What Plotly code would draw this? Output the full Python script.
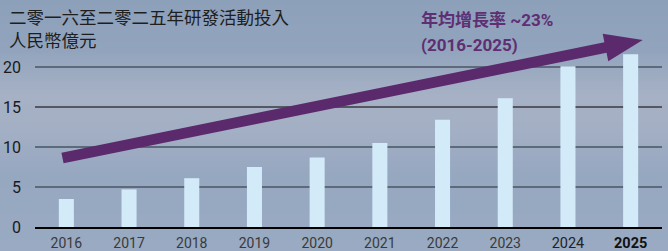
import base64, struct, zlib
import plotly.graph_objects as go

# ---- data ----
years = ["2016", "2017", "2018", "2019", "2020", "2021", "2022", "2023", "2024", "2025"]
year_labels = ["2016", "2017", "2018", "2019", "2020", "2021", "2022", "2023",
               "<span style='font-size:14.5px;color:#222'>2024</span>",
               "<span style='font-size:14.5px;color:#111'><b>2025</b></span>"]
rd_input = [3.5, 4.7, 6.1, 7.5, 8.7, 10.5, 13.4, 16.1, 20.1, 21.6]
y_ticks = [0, 5, 10, 15, 20]
title_lines = ["二零一六至二零二五年研發活動投入", "人民幣億元"]
growth_lines = ["年均增長率 ~23%", "(2016-2025)"]

# ---- geometry ----
W, H = 668, 251
ML, MR, MT, MB = 35, 6, 35, 24
PW, PH = W - ML - MR, H - MT - MB


def px2paper(px, py):
    return (px - ML) / PW, (H - MB - py) / PH


# ---- background gradient as PNG ----
def gradient_png(stops, h):
    def col(y):
        for (y0, c0), (y1, c1) in zip(stops, stops[1:]):
            if y0 <= y <= y1:
                t = (y - y0) / (y1 - y0) if y1 > y0 else 0
                return bytes(int(round(a + (b - a) * t)) for a, b in zip(c0, c1))
        return bytes(stops[-1][1])
    raw = b"".join(b"\x00" + col(y) for y in range(h))

    def chunk(tag, data):
        c = struct.pack(">I", len(data)) + tag + data
        return c + struct.pack(">I", zlib.crc32(tag + data) & 0xffffffff)
    png = b"\x89PNG\r\n\x1a\n" + chunk(b"IHDR", struct.pack(">IIBBBBB", 1, h, 8, 2, 0, 0, 0))
    png += chunk(b"IDAT", zlib.compress(raw)) + chunk(b"IEND", b"")
    return "data:image/png;base64," + base64.b64encode(png).decode()


bg_stops = [(0, (141, 160, 186)), (50, (146, 164, 189)), (95, (166, 177, 197)),
            (130, (163, 175, 196)), (175, (150, 167, 192)), (251, (153, 170, 194))]
bg_src = gradient_png(bg_stops, H)

fig = go.Figure()
fig.add_trace(go.Bar(x=years, y=rd_input, width=0.24, marker_color="#d3ebf8",
                     marker_line_width=0, hoverinfo="skip"))

shapes = []
# gridlines
for v in y_ticks[1:]:
    if v == 15:
        shapes.append(dict(type="line", xref="paper", yref="y", x0=0, x1=1, y0=v, y1=v,
                           line=dict(color="#000000", width=1), layer="below"))
    else:
        shapes.append(dict(type="line", xref="paper", yref="y", x0=0, x1=1, y0=v, y1=v,
                           line=dict(color="#5c6a7c", width=2), layer="below"))

# arrow polygon (pixel geometry)
sx, sy = 62.5, 158.0
tx, ty = 642.7, 40.0
dx, dy = tx - sx, ty - sy
L = (dx * dx + dy * dy) ** 0.5
ux, uy = dx / L, dy / L
nx, ny = -uy, ux
hw, hhw, hl = 5.4, 14.0, 38.0
bx, by = tx - hl * ux, ty - hl * uy
pts = [
    (sx + hw * nx, sy + hw * ny),
    (bx + hw * nx, by + hw * ny),
    (bx + hhw * nx, by + hhw * ny),
    (tx, ty),
    (bx - hhw * nx, by - hhw * ny),
    (bx - hw * nx, by - hw * ny),
    (sx - hw * nx, sy - hw * ny),
]
path = "M " + " L ".join("%.5f,%.5f" % px2paper(x, y) for x, y in pts) + " Z"
shapes.append(dict(type="path", xref="paper", yref="paper", path=path,
                   fillcolor="#5b2a6d", line=dict(width=0), layer="above"))

annotations = []
tx0, _ = px2paper(7, 0)
for i, (txt, cy) in enumerate(zip(title_lines, [16.5, 40])):
    _, py = px2paper(0, cy)
    annotations.append(dict(text=txt, xref="paper", yref="paper", x=tx0, y=py,
                            xanchor="left", yanchor="middle", showarrow=False,
                            font=dict(family="Noto Sans CJK TC", size=17.5, color="#1e1e1e")))
gx0, _ = px2paper(419, 0)
for txt, cy in zip(growth_lines, [20, 45]):
    _, py = px2paper(0, cy)
    annotations.append(dict(text="<b>%s</b>" % txt, xref="paper", yref="paper", x=gx0, y=py,
                            xanchor="left", yanchor="middle", showarrow=False,
                            font=dict(family="Roboto, Noto Sans CJK TC", size=17, color="#5e2f72")))

fig.update_layout(
    width=W, height=H,
    margin=dict(l=ML, r=MR, t=MT, b=MB, pad=0, autoexpand=False),
    paper_bgcolor="#98a9c0", plot_bgcolor="rgba(0,0,0,0)",
    showlegend=False, bargap=0.76,
    images=[dict(source=bg_src, xref="paper", yref="paper",
                 x=-ML / PW, y=1 + MT / PH, sizex=W / PW, sizey=H / PH,
                 xanchor="left", yanchor="top", sizing="stretch", layer="below")],
    shapes=shapes, annotations=annotations,
    xaxis=dict(type="category", tickvals=years, ticktext=year_labels, showgrid=False,
               showline=True, linecolor="#000000", linewidth=2, ticks="",
               tickfont=dict(family="Roboto", size=14, color="#3a3a3a"),
               ticklabelstandoff=2, automargin=False, fixedrange=True),
    yaxis=dict(range=[0, 24], tickvals=y_ticks, showgrid=False, zeroline=False,
               showline=False, ticks="", ticklabelstandoff=13,
               tickfont=dict(family="Roboto", size=16, color="#1a1a1a"),
               automargin=False, fixedrange=True),
)

fig.write_html("out.html", config={"displayModeBar": False})
